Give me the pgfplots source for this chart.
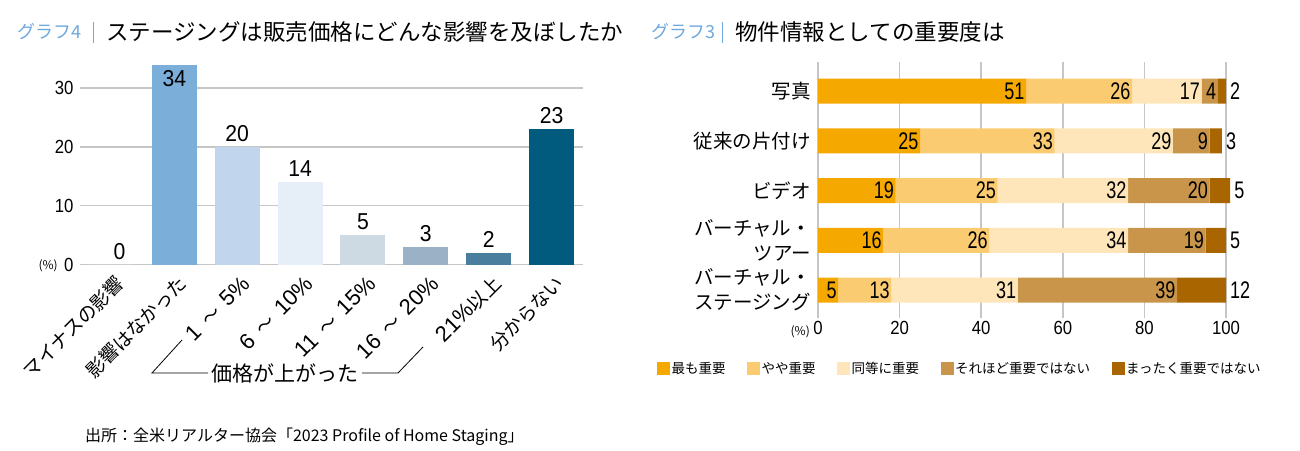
\documentclass[border=0pt]{standalone}
\usepackage{fontspec}
\usepackage{pgfplots}
\pgfplotsset{compat=1.18}
\setmainfont{Noto Sans CJK JP}
\newfontfamily\numfont[FakeStretch=0.88]{Liberation Sans}
\newfontfamily\valfont[FakeStretch=0.92]{Liberation Sans}
\newfontfamily\valfontR[FakeStretch=0.75]{Liberation Sans}
\newfontfamily\lblfont{Liberation Sans}
\newcommand\dg[1]{{\lblfont\fontsize{22}{22}\selectfont #1}}
\newcommand\tl{\hspace{9pt}～\hspace{9pt}}
\definecolor{b1}{HTML}{7BAED8}
\definecolor{b2}{HTML}{C1D6EC}
\definecolor{b3}{HTML}{E6EEF8}
\definecolor{b4}{HTML}{CDD9E3}
\definecolor{b5}{HTML}{9BB2C6}
\definecolor{b6}{HTML}{4A7E9E}
\definecolor{b7}{HTML}{005B7F}
\definecolor{gridc}{HTML}{C6C6C6}
\definecolor{ttl}{HTML}{6FA8DC}
\definecolor{o1}{HTML}{F5A800}
\definecolor{o2}{HTML}{FBCB72}
\definecolor{o3}{HTML}{FEE6BA}
\definecolor{o4}{HTML}{C8954A}
\definecolor{o5}{HTML}{A96600}
\begin{document}
\begin{tikzpicture}
\useasboundingbox (0pt,0pt) rectangle (1300pt,-450pt);
% ---------------- left chart ----------------
\begin{axis}[
  at={(80pt,-264.5pt)}, anchor=south west,
  scale only axis, width=503pt, height=200pt,
  xmin=-0.5, xmax=7.5, ymin=0, ymax=34,
  axis line style={draw=none}, major tick length=0pt,
  ytick={0,10,20,30}, ymajorgrids,
  grid style={gridc, line width=1.5pt},
  /pgf/number format/assume math mode=true,
  yticklabel style={font=\numfont\fontsize{19}{22}\selectfont, xshift=-3pt},
  xtick={0,1,2,3,4,5,6,7},
  xticklabels={マイナスの影響, 影響はなかった, \dg{1}\tl\dg{5\%}, \dg{6}\tl\dg{10\%}, \dg{11}\tl\dg{15\%}, \dg{16}\tl\dg{20\%}, \dg{21\%}以上, 分からない},
  xticklabel style={font=\fontsize{19}{20}\selectfont, xshift=9pt, yshift=-15.5pt, rotate=45, anchor=east, inner sep=0pt},
  clip=false,
]
\pgfplotsset{every axis plot/.append style={ybar, bar width=45pt, bar shift=0pt, draw=none,
  nodes near coords, nodes near coords style={font=\valfont\fontsize{23}{26}\selectfont, text=black, anchor=south, inner sep=0pt, yshift=5pt}}}
\addplot[fill=b1, nodes near coords style={anchor=north, yshift=-11pt}] coordinates {(1,34)};
\addplot[fill=white, nodes near coords style={xshift=8pt}] coordinates {(0,0)};
\addplot[fill=b2] coordinates {(2,20)};
\addplot[fill=b3] coordinates {(3,14)};
\addplot[fill=b4] coordinates {(4,5)};
\addplot[fill=b5] coordinates {(5,3)};
\addplot[fill=b6] coordinates {(6,2)};
\addplot[fill=b7] coordinates {(7,23)};
\end{axis}
% ---------------- right chart ----------------
\begin{axis}[
  at={(818pt,-318pt)}, anchor=south west,
  scale only axis, width=408pt, height=256pt,
  xmin=0, xmax=100, ymin=-0.583, ymax=4.563, y dir=reverse,
  xbar stacked, bar width=25pt,
  axis line style={draw=none}, major tick length=0pt,
  xtick={0,20,40,60,80,100}, xmajorgrids,
  grid style={gridc, line width=1.5pt},
  /pgf/number format/assume math mode=true,
  xticklabel style={font=\numfont\fontsize{19}{22}\selectfont},
  ytick={0,1,2,3,4},
  yticklabels={写真, 従来の片付け, ビデオ, {バーチャル・\\ツアー}, {バーチャル・\\ステージング}},
  yticklabel style={font=\fontsize{19.5}{25}\selectfont, align=right, xshift=-3.5pt},
  clip=false,
  legend style={at={(-0.3946,-0.199)}, anchor=west, draw=none, fill=none,
    legend columns=5, font=\fontsize{13.5}{15}\selectfont, inner sep=0pt,
    nodes={inner sep=1.5pt},
    /tikz/every even column/.append style={column sep=20pt}},
  legend image code/.code={\fill[#1] (0pt,-6.5pt) rectangle (13pt,6.5pt);},
  point meta=explicit symbolic,
  nodes near coords,
  nodes near coords style={font=\valfontR\fontsize{24}{26}\selectfont, text=black, anchor=east, inner sep=1.5pt, xshift={\pgfplotspointmeta*2.04pt}},
]
\addplot[fill=o1, draw=none] coordinates {(51,0)[51] (25,1)[25] (19,2)[19] (16,3)[16] (5,4)[5]};
\addlegendentry{最も重要}
\addplot[fill=o2, draw=none] coordinates {(26,0)[26] (33,1)[33] (25,2)[25] (26,3)[26] (13,4)[13]};
\addlegendentry{やや重要}
\addplot[fill=o3, draw=none] coordinates {(17,0)[17] (29,1)[29] (32,2)[32] (34,3)[34] (31,4)[31]};
\addlegendentry{同等に重要}
\addplot[fill=o4, draw=none] coordinates {(4,0)[4] (9,1)[9] (20,2)[20] (19,3)[19] (39,4)[39]};
\addlegendentry{それほど重要ではない}
\addplot[fill=o5, draw=none, nodes near coords style={anchor=west, inner sep=0pt, xshift=4pt}] coordinates {(2,0)[2] (3,1)[3] (5,2)[5] (5,3)[5] (12,4)[12]};
\addlegendentry{まったく重要ではない}
\end{axis}
% ---------------- titles and notes ----------------
\node[anchor=west, text=ttl, inner sep=0pt, font=\fontsize{18}{20}\selectfont] at (17pt,-32pt) {グラフ4};
\draw[ttl, line width=1pt] (93pt,-22pt) -- (93pt,-43pt);
\node[anchor=west, inner sep=0pt, font=\fontsize{22.5}{24}\selectfont] at (106pt,-32pt) {ステージングは販売価格にどんな影響を及ぼしたか};
\node[anchor=west, text=ttl, inner sep=0pt, font=\fontsize{18}{20}\selectfont] at (651pt,-32pt) {グラフ3};
\draw[ttl, line width=1pt] (722pt,-22pt) -- (722pt,-43pt);
\node[anchor=west, inner sep=0pt, font=\fontsize{22.5}{24}\selectfont] at (735pt,-32pt) {物件情報としての重要度は};
\node[anchor=east, inner sep=0pt, font=\fontsize{12}{14}\selectfont] at (58pt,-266pt) {(\%)};
\node[anchor=east, inner sep=0pt, font=\fontsize{12}{14}\selectfont] at (810pt,-332pt) {(\%)};
\draw[black, line width=0.8pt] (182pt,-340pt) -- (152pt,-373pt) -- (208pt,-373pt);
\node[anchor=west, inner sep=0pt, font=\fontsize{21}{23}\selectfont] at (211pt,-373pt) {価格が上がった};
\draw[black, line width=0.8pt] (362pt,-373pt) -- (398pt,-373pt) -- (423pt,-347pt);
\node[anchor=west, inner sep=0pt, font=\fontsize{16}{18}\selectfont] at (85pt,-437pt) {出所：全米リアルター協会「2023 Profile of Home Staging」};
\end{tikzpicture}
\end{document}
